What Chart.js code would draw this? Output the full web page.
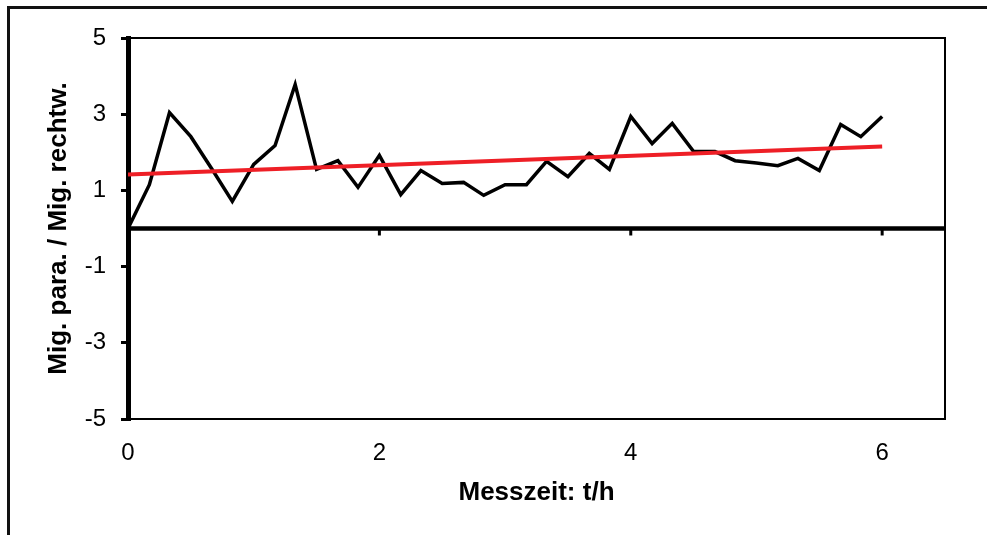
<!DOCTYPE html>
<html>
<head>
<meta charset="utf-8">
<script src="https://cdn.jsdelivr.net/npm/chart.js@4/dist/chart.umd.min.js"></script>
<style>
    body { margin: 0; background: #fff; }
    #wrap { position: relative; width: 987px; height: 535px; overflow: hidden; }
    #frame { position: absolute; left: 7px; top: 6px; right: -10px; bottom: -10px; border-top: 3px solid #111; border-left: 3px solid #111; }
</style>
</head>
<body>
<div id="wrap">
    <div id="frame"></div>
    <canvas id="grafico"></canvas>
</div>
<script>
// Messzeit in Stunden (alle 10 min)
var zeiten = [0, 0.17, 0.33, 0.5, 0.67, 0.83, 1, 1.17, 1.33, 1.5, 1.67, 1.83,
    2, 2.17, 2.33, 2.5, 2.67, 2.83, 3, 3.17, 3.33, 3.5, 3.67, 3.83,
    4, 4.17, 4.33, 4.5, 4.67, 4.83, 5, 5.17, 5.33, 5.5, 5.67, 5.83, 6];
var verhaeltnis = [0, 1.15, 3.04, 2.41, 1.55, 0.71, 1.68, 2.18, 3.78, 1.55, 1.78, 1.08,
    1.92, 0.89, 1.52, 1.18, 1.21, 0.87, 1.15, 1.15, 1.76, 1.36, 1.97, 1.55,
    2.94, 2.23, 2.76, 2.02, 2.02, 1.78, 1.72, 1.65, 1.84, 1.52, 2.73, 2.41, 2.94];

// lineare Trendlinie
var trendX = [0, 6];
var trendY = [1.42, 2.15];

var xTicks = [0, 2, 4, 6];
var yTicks = [-5, -3, -1, 1, 3, 5];

const achsen = {
    id: 'achsen',
    afterDatasetsDraw(chart) {
        const ctx = chart.ctx;
        const area = chart.chartArea;
        const x = chart.scales.x;
        const y0 = chart.scales.y.getPixelForValue(0);
        ctx.save();
        ctx.strokeStyle = '#000';
        ctx.lineWidth = 2;
        ctx.beginPath();
        ctx.moveTo(area.left, area.top);
        ctx.lineTo(area.right, area.top);
        ctx.lineTo(area.right, area.bottom);
        ctx.stroke();
        // Nulllinie
        ctx.lineWidth = 4.5;
        ctx.beginPath();
        ctx.moveTo(area.left, y0);
        ctx.lineTo(area.right, y0);
        ctx.stroke();
        ctx.lineWidth = 3;
        for (let v of xTicks) {
            if (v === 0) continue;
            const px = x.getPixelForValue(v);
            ctx.beginPath();
            ctx.moveTo(px, y0);
            ctx.lineTo(px, y0 + 7);
            ctx.stroke();
        }
        ctx.restore();
    }
};

new Chart('grafico', {
    type: 'line',
    data: {
        datasets: [{
            label: 'Mig. para. / Mig. rechtw.',
            data: zeiten.map((t, i) => ({ x: t, y: verhaeltnis[i] })),
            borderColor: '#000',
            borderWidth: 3.5,
            pointRadius: 0,
            tension: 0,
            order: 2,
        }, {
            label: 'Trend',
            data: trendX.map((t, i) => ({ x: t, y: trendY[i] })),
            borderColor: '#ee1f26',
            borderWidth: 4,
            pointRadius: 0,
            order: 1,
        }]
    },
    options: {
        responsive: true,
        maintainAspectRatio: false,
        animation: false,
        layout: { padding: { top: 38, right: 42, left: 0, bottom: 0 } },
        plugins: {
            legend: { display: false },
            tooltip: { enabled: false }
        },
        scales: {
            x: {
                type: 'linear',
                min: 0,
                max: 6.5,
                afterBuildTicks: s => { s.ticks = xTicks.map(v => ({ value: v })); },
                afterFit: s => { s.height = 116; },
                grid: { display: false, drawTicks: false },
                border: { display: true, color: '#000', width: 2 },
                ticks: {
                    color: '#000',
                    padding: 20,
                    maxRotation: 0,
                    font: { family: 'Liberation Sans', size: 24 }
                },
                title: {
                    display: true,
                    text: 'Messzeit: t/h',
                    color: '#000',
                    padding: { top: 0, bottom: 27 },
                    font: { family: 'Liberation Sans', size: 26, weight: 'bold' }
                }
            },
            y: {
                min: -5,
                max: 5,
                afterBuildTicks: s => { s.ticks = yTicks.map(v => ({ value: v })); },
                afterFit: s => { s.width = 128; },
                grid: { drawOnChartArea: false, drawTicks: true, tickLength: 7, color: '#000', lineWidth: 3 },
                border: { display: true, color: '#000', width: 5 },
                ticks: {
                    color: '#000',
                    padding: 15,
                    font: { family: 'Liberation Sans', size: 24 }
                },
                title: {
                    display: true,
                    text: 'Mig. para. / Mig. rechtw.',
                    color: '#000',
                    padding: { top: 43, bottom: 0 },
                    font: { family: 'Liberation Sans', size: 26, weight: 'bold' }
                }
            }
        }
    },
    plugins: [achsen]
});
</script>
</body>
</html>
